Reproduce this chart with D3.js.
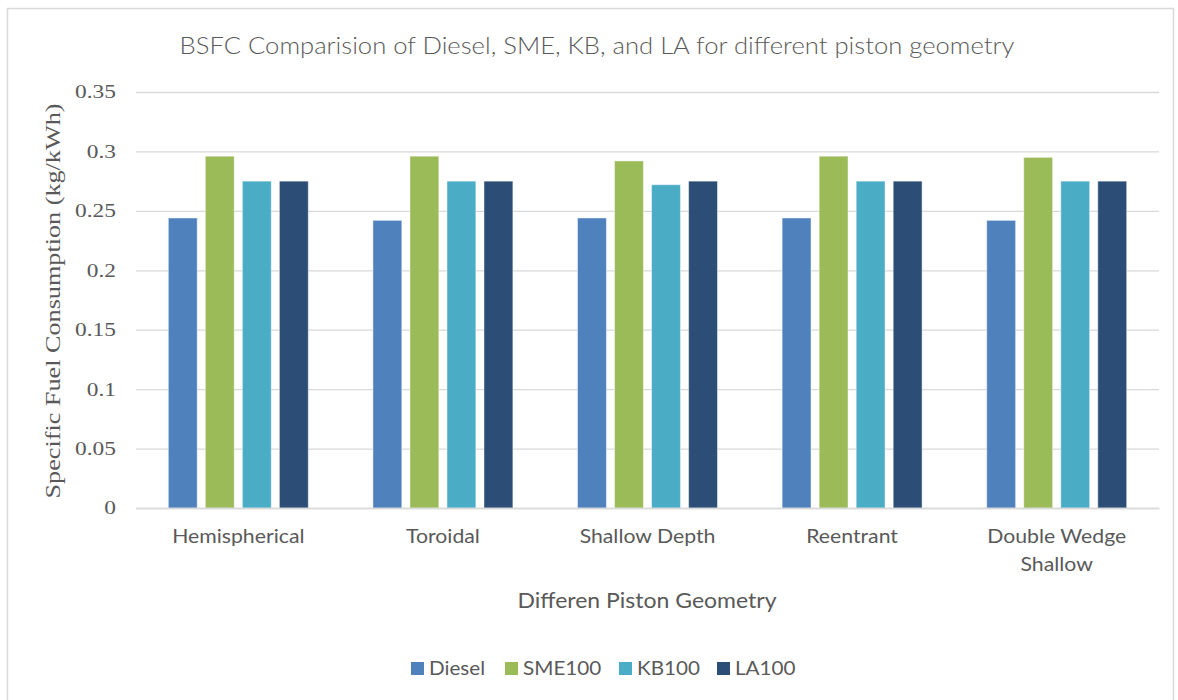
<!DOCTYPE html>
<html><head><meta charset="utf-8">
<script src="https://cdn.jsdelivr.net/npm/d3@7"></script>
<style>body{margin:0;background:#fff}svg{display:block}</style>
</head><body>
<svg id="c" width="1178" height="700"></svg>
<script>
const categories = ["Hemispherical", "Toroidal", "Shallow Depth", "Reentrant", "Double Wedge Shallow"];
const seriesNames = ["Diesel", "SME100", "KB100", "LA100"];
const diesel = [0.244, 0.242, 0.244, 0.244, 0.242];
const sme100 = [0.296, 0.296, 0.292, 0.296, 0.295];
const kb100  = [0.275, 0.275, 0.272, 0.275, 0.275];
const la100  = [0.275, 0.275, 0.275, 0.275, 0.275];
const yTicks = [0, 0.05, 0.1, 0.15, 0.2, 0.25, 0.3, 0.35];
const colors = ["#4f81bd", "#9bbb59", "#4bacc6", "#2c4d75"];
const seriesValues = [diesel, sme100, kb100, la100];

const svg = d3.select("#c");
const L = 136, R = 1159, T = 92, B = 508;
const grey = "#595959";

svg.append("rect").attr("x", 7.5).attr("y", 8.5).attr("width", 1166).attr("height", 740)
  .attr("fill", "#fff").attr("stroke", "#d9d9d9").attr("stroke-width", 1.5);

const y = d3.scaleLinear().domain([0, 0.35]).range([B, T]);
const x0 = d3.scaleBand().domain(categories).range([L, R]).padding(0);
const groupW = x0.bandwidth() * 0.684;
const x1 = d3.scaleBand().domain(seriesNames)
  .range([(x0.bandwidth() - groupW) / 2, (x0.bandwidth() + groupW) / 2])
  .paddingInner(0.22).paddingOuter(0);

// gridlines + y labels
const yAxis = d3.axisLeft(y).tickValues(yTicks).tickSize(-(R - L)).tickPadding(0)
  .tickFormat(d => String(+d.toFixed(2)));
const ga = svg.append("g").attr("transform", `translate(${L},0)`).call(yAxis);
ga.select(".domain").remove();
ga.selectAll(".tick line").attr("stroke", "#d9d9d9").attr("stroke-width", 1.3);
ga.selectAll(".tick text").attr("fill", grey).attr("font-family", "Liberation Serif")
  .attr("font-size", 18).attr("x", 0).attr("dy", "0.33em")
  .attr("transform", "translate(-20,0) scale(1.3,1)");

// bars
const groups = svg.append("g").selectAll("g").data(categories).join("g")
  .attr("transform", d => `translate(${x0(d)},0)`);
groups.selectAll("rect").data((c, i) => seriesNames.map((s, j) => ({s, v: seriesValues[j][i], j})))
  .join("rect")
  .attr("x", d => x1(d.s)).attr("width", x1.bandwidth())
  .attr("y", d => y(d.v)).attr("height", d => y(0) - y(d.v))
  .attr("fill", d => colors[d.j])
  .attr("stroke", "rgba(255,255,255,0.45)").attr("stroke-width", 1);

// x axis
const xAxis = d3.axisBottom(x0).tickSize(0).tickPadding(0);
const gx = svg.append("g").attr("transform", `translate(0,${B})`).call(xAxis);
gx.select(".domain").attr("stroke", "#d9d9d9").attr("stroke-width", 1.3);
gx.selectAll(".tick text").attr("fill", grey).attr("font-family", "Lato").attr("font-size", 19.5)
  .attr("y", 35).attr("dy", null).attr("transform", "scale(1.09,1)")
  .each(function(d) {
    const t = d3.select(this);
    if (d === "Double Wedge Shallow") {
      t.text(null);
      t.append("tspan").attr("x", 0).attr("y", 35).text("Double Wedge");
      t.append("tspan").attr("x", 0).attr("y", 63).text("Shallow");
    }
  });

// title
svg.append("text").attr("transform", "translate(597,54) scale(1.09,1)").attr("text-anchor", "middle")
  .attr("fill", grey).attr("font-family", "Lato").attr("font-size", 23.5)
  .attr("font-weight", 300)
  .text("BSFC Comparision of Diesel, SME, KB, and LA for different piston geometry");

// axis titles
svg.append("text").attr("transform", "translate(60,301) rotate(-90) scale(1.31,1)").attr("text-anchor", "middle")
  .attr("fill", grey).attr("font-family", "Liberation Serif").attr("font-size", 20)
  .text("Specific Fuel Consumption (kg/kWh)");
svg.append("text").attr("transform", "translate(647,608) scale(1.07,1)").attr("text-anchor", "middle")
  .attr("fill", grey).attr("font-family", "Lato").attr("font-size", 21.5)
  .text("Differen Piston Geometry");

// legend
const legX = [411, 505, 619, 717];
const lg = svg.append("g").selectAll("g").data(seriesNames).join("g")
  .attr("transform", (d, i) => `translate(${legX[i]},662)`);
lg.append("rect").attr("width", 13).attr("height", 13).attr("fill", (d, i) => colors[i]);
lg.append("text").attr("transform", "translate(18,13) scale(1.06,1)").attr("fill", grey).attr("font-family", "Lato")
  .attr("font-size", 19.5).text(d => d);
</script>
</body></html>
